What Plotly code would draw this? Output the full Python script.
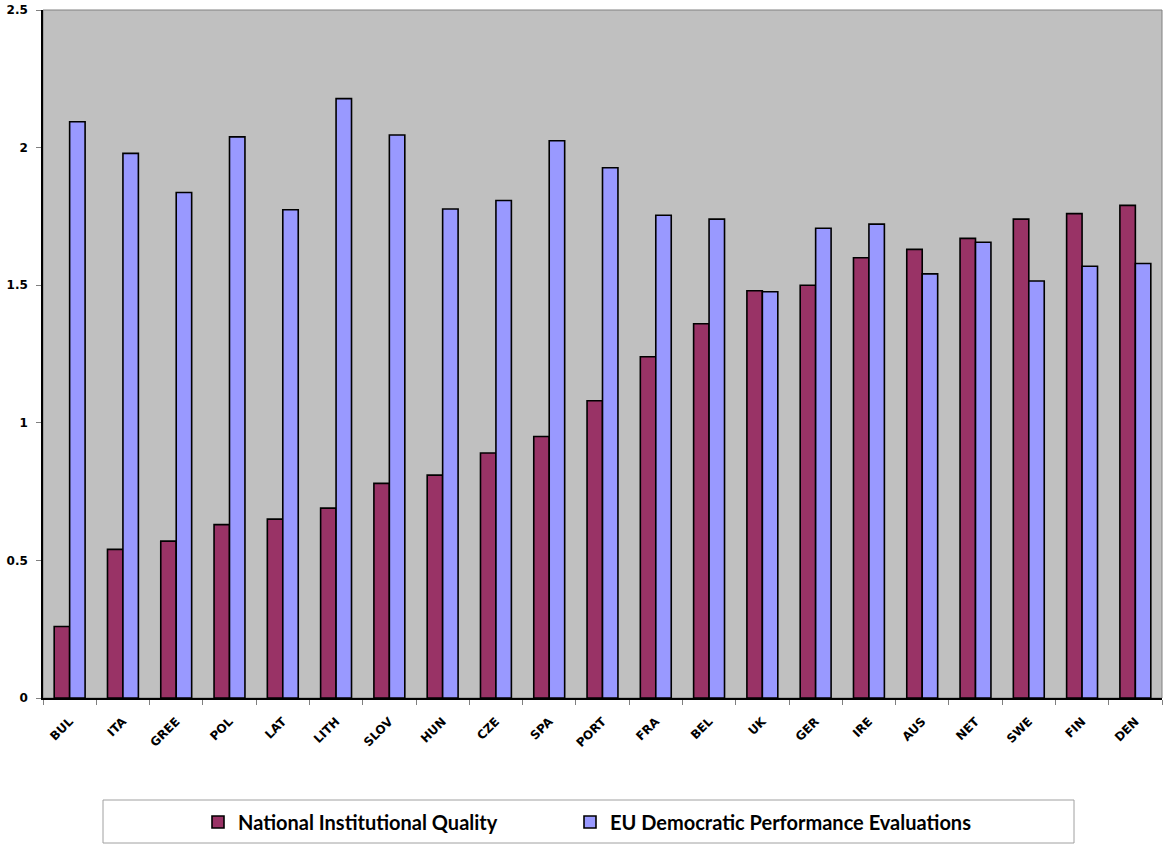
import plotly.graph_objects as go

# Countries, ordered by national institutional quality
countries = ["BUL", "ITA", "GREE", "POL", "LAT", "LITH", "SLOV", "HUN", "CZE", "SPA",
             "PORT", "FRA", "BEL", "UK", "GER", "IRE", "AUS", "NET", "SWE", "FIN", "DEN"]

national_quality = [0.26, 0.54, 0.57, 0.63, 0.65, 0.69, 0.78, 0.81, 0.89, 0.95,
                    1.08, 1.24, 1.36, 1.48, 1.50, 1.60, 1.63, 1.67, 1.74, 1.76, 1.79]

eu_performance = [2.094, 1.979, 1.837, 2.039, 1.774, 2.178, 2.046, 1.777, 1.808, 2.025,
                  1.927, 1.754, 1.740, 1.476, 1.707, 1.722, 1.541, 1.656, 1.515, 1.569, 1.579]

y_ticks = [0, 0.5, 1, 1.5, 2, 2.5]
y_tick_labels = ["0", "0.5", "1", "1.5", "2", "2.5"]

W, H = 1164, 845
M_L, M_R, M_T, M_B = 43, 2, 10, 147
plot_w = W - M_L - M_R
plot_h = H - M_T - M_B


def px_to_paper_x(px):
    return (px - M_L) / plot_w


def px_to_paper_y(py):
    return (H - M_B - py) / plot_h


fig = go.Figure()
fig.add_trace(go.Bar(
    x=countries, y=national_quality, name="National Institutional Quality",
    marker=dict(color="#993366", line=dict(color="#000000", width=1.6)),
    legend="legend",
))
fig.add_trace(go.Bar(
    x=countries, y=eu_performance, name="EU Democratic Performance Evaluations",
    marker=dict(color="#9999FF", line=dict(color="#000000", width=1.6)),
    legend="legend2",
))

tick_font = dict(family="DejaVu Sans", size=12, color="#000000", weight="bold")
legend_font = dict(family="Lato", size=20, color="#000000", weight="bold")


def legend_at(px):
    return dict(
        orientation="h",
        x=px_to_paper_x(px), xanchor="left",
        y=px_to_paper_y(822), yanchor="middle",
        bgcolor="rgba(0,0,0,0)", borderwidth=0,
        font=legend_font,
    )


fig.update_layout(
    width=W, height=H,
    margin=dict(l=M_L, r=M_R, t=M_T, b=M_B, pad=0),
    paper_bgcolor="#FFFFFF",
    plot_bgcolor="#C0C0C0",
    barmode="group",
    bargap=0.42,
    bargroupgap=0,
    showlegend=True,
    legend=legend_at(198),
    legend2=legend_at(570),
    xaxis=dict(
        showline=True, linecolor="#000000", linewidth=1.5,
        ticks="outside", tickson="boundaries", ticklen=5, tickcolor="#808080",
        tickangle=-45, tickfont=tick_font, ticklabelstandoff=10,
        showgrid=False, zeroline=False,
    ),
    yaxis=dict(
        range=[0, 2.5], tickvals=y_ticks, ticktext=y_tick_labels,
        showline=True, linecolor="#000000", linewidth=1.5,
        ticks="outside", ticklen=5, tickcolor="#808080",
        tickfont=tick_font, ticklabelstandoff=6,
        showgrid=False, zeroline=False,
    ),
    shapes=[
        # plot-area frame (top and right edges)
        dict(type="rect", xref="paper", yref="paper", x0=0, x1=1, y0=0, y1=1,
             line=dict(color="#808080", width=1), layer="below"),
        # legend box
        dict(type="rect", xref="paper", yref="paper",
             x0=px_to_paper_x(103), x1=px_to_paper_x(1074),
             y0=px_to_paper_y(843), y1=px_to_paper_y(800),
             line=dict(color="#A0A0A0", width=1), fillcolor="#FFFFFF", layer="below"),
    ],
)

fig.write_html("out.html")
